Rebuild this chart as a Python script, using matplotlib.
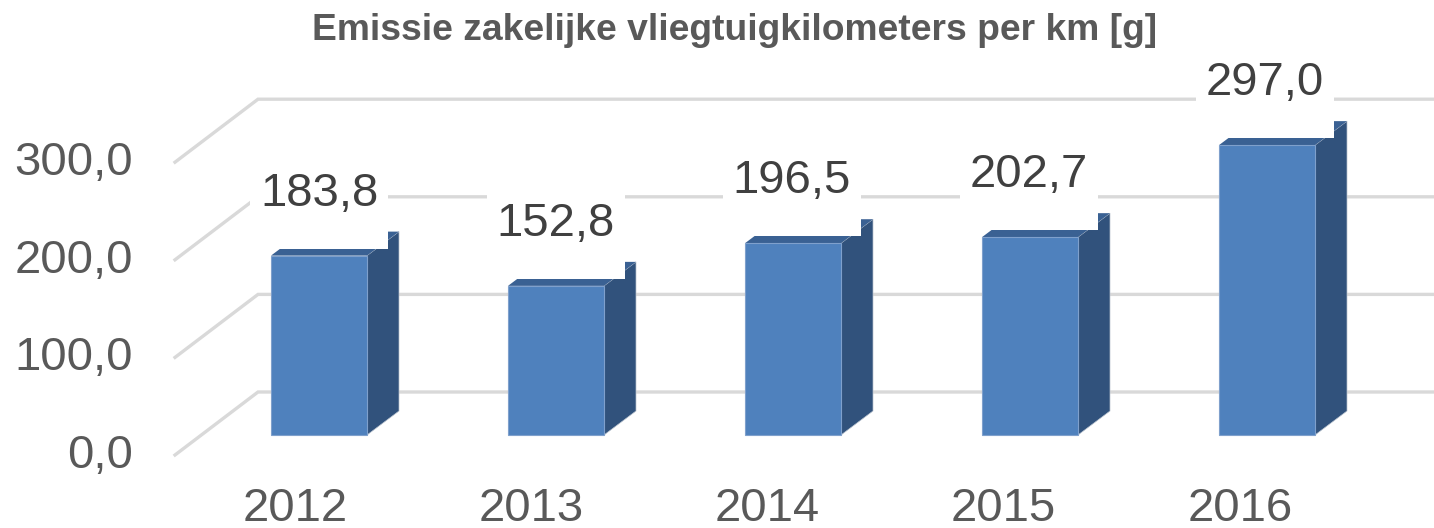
import matplotlib
matplotlib.use('Agg')
import matplotlib.pyplot as plt
from matplotlib.patches import Polygon, Rectangle

plt.rcParams['font.family'] = ['Liberation Sans', 'DejaVu Sans']

# Values
years = ['2012', '2013', '2014', '2015', '2016']
values = [183.8, 152.8, 196.5, 202.7, 297.0]
labels = ['183,8', '152,8', '196,5', '202,7', '297,0']
grid_values = [0, 100, 200, 300]
grid_labels = ['0,0', '100,0', '200,0', '300,0']

# Pixel scale of the picture (axes fill the whole figure)
W, H = 1434, 528
px_x = 237.0          # pixels per category
px_y = 0.976          # pixels per unit
x0_px, y0_px = 319, 435

def dx(p):
    return p / px_x

def dy(p):
    return p / px_y

fig = plt.figure(figsize=(W / 100, H / 100), dpi=100)
ax = fig.add_axes([0, 0, 1, 1])
ax.set_xlim(-x0_px / px_x, (W - x0_px) / px_x)
ax.set_ylim((y0_px - H) / px_y, y0_px / px_y)
ax.axis('off')

bar_w = 96 / px_x
depth_x, depth_y = dx(32), dy(24)
xs = list(range(len(years)))

# Back wall and side wall grid lines
wall_left = dx(258 - x0_px)
floor_left = dx(175 - x0_px)
wall_dy = dy(43)
floor_dy = dy(-20)
for v in grid_values:
    ax.plot([floor_left, wall_left, ax.get_xlim()[1]],
            [v + floor_dy, v + wall_dy, v + wall_dy],
            color='#D9D9D9', lw=2.4, zorder=1, solid_joinstyle='miter')

# Bars: side and top faces, then the front from ax.bar
for x, v in zip(xs, values):
    r = x + bar_w / 2
    l = x - bar_w / 2
    ax.add_patch(Polygon([(r, 0), (r + depth_x, depth_y), (r + depth_x, v + depth_y), (r, v)],
                         closed=True, fc='#31527C', ec='#B9C2CE', lw=0.5, zorder=2))
    ax.add_patch(Polygon([(l, v), (l + depth_x, v + depth_y), (r + depth_x, v + depth_y), (r, v)],
                         closed=True, fc='#3A6193', ec='none', zorder=2))
ax.bar(xs, values, width=bar_w, color='#4F81BD', edgecolor='#7FA0CC', linewidth=0.8, zorder=3)

# Data labels sit on white boxes that hide what is behind them
for x, v, s in zip(xs, values, labels):
    cy = v + dy(62)
    cx = x - dx(x * 0.5)
    ax.add_patch(Rectangle((cx - dx(69), cy - dy(55)), dx(138), dy(85), fc='white', ec='none', zorder=4))
    ax.text(cx, cy, s, fontsize=34, color='#404040', ha='center', va='center', zorder=5)

# Value axis labels
for v, s in zip(grid_values, grid_labels):
    ax.text(dx(133 - x0_px), v + dy(-21), s, fontsize=34, color='#595959', ha='right', va='center', zorder=5)

# Category labels
for x, s in zip(xs, years):
    ax.text(x * 236.2 / px_x - dx(24), dy(-73.8), s, fontsize=34, color='#595959', ha='center', va='center', zorder=5)

fig.text(735 / W, 1 - 31 / H, 'Emissie zakelijke vliegtuigkilometers per km [g]',
         fontsize=26.8, fontweight='bold', color='#595959', ha='center', va='center')

fig.savefig('out.png', dpi=100)
